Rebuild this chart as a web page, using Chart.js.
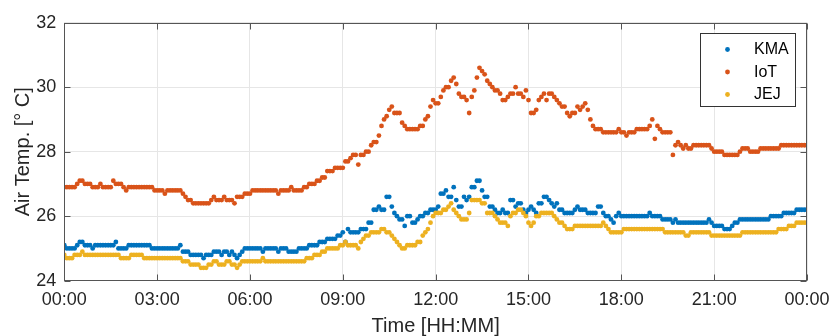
<!DOCTYPE html>
<html><head><meta charset="utf-8">
<script src="https://cdn.jsdelivr.net/npm/chart.js@4.4.1/dist/chart.umd.min.js"></script>
<style>html,body{margin:0;padding:0;background:#fff;overflow:hidden}</style>
</head><body>
<canvas id="c" width="829" height="336"></canvas>
<script>
// ---- data (5-minute samples, 00:00 .. 24:00) ----
const seriesNames = ['KMA', 'IoT', 'JEJ'];
const seriesColors = ['#0072BD', '#D95319', '#EDB120'];
const sampleMinutes = 5;
const xTickMinutes = [0, 180, 360, 540, 720, 900, 1080, 1260, 1440];
const yTickValues = [24, 26, 28, 30, 32];

const kma = [
25.1,25.0,25.0,25.0,25.0,25.1,25.2,25.2,25.1,25.1,25.1,25.0,
25.1,25.1,25.1,25.1,25.1,25.1,25.1,25.1,25.2,25.0,25.0,25.0,
25.0,25.1,25.1,25.1,25.1,25.1,25.1,25.1,25.1,25.1,25.0,25.0,
25.0,25.0,25.0,25.0,25.0,25.0,25.0,25.0,25.0,25.1,24.9,24.9,
24.9,24.8,24.8,24.8,24.8,24.8,24.7,24.8,24.8,24.8,24.9,24.9,
24.9,24.8,24.9,24.9,24.8,24.9,24.8,24.7,24.8,24.9,25.0,25.0,
25.0,25.0,25.0,25.0,25.0,24.9,25.0,25.0,25.0,25.0,25.0,24.9,
25.0,25.0,25.0,24.9,24.9,24.9,24.9,25.0,25.0,25.0,25.0,25.1,
25.1,25.1,25.1,25.2,25.2,25.2,25.3,25.3,25.3,25.3,25.4,25.4,
25.5,25.2,25.6,25.5,25.5,25.5,25.5,25.6,25.6,25.6,25.8,25.8,
26.2,26.2,26.3,26.2,26.2,26.6,26.6,26.3,26.1,26.0,25.9,25.9,
25.7,26.0,26.0,25.8,25.8,25.9,26.0,26.0,26.1,26.1,26.2,26.2,
26.2,26.3,26.7,26.7,26.8,26.6,26.6,26.9,26.5,26.3,26.3,26.6,
26.5,26.6,26.9,26.9,27.1,27.1,26.8,26.6,26.6,26.3,26.3,26.2,
26.1,26.1,26.2,26.1,26.1,26.5,26.5,26.3,26.4,26.4,26.2,26.1,
26.2,26.3,26.2,26.1,26.4,26.4,26.6,26.6,26.5,26.4,26.3,26.4,
26.2,26.2,26.1,26.1,26.1,26.1,26.2,26.3,26.2,26.2,26.2,26.1,
26.1,26.1,26.1,26.3,26.3,26.1,26.0,26.0,25.9,25.8,26.0,26.1,
26.0,26.0,26.0,26.0,26.0,26.0,26.0,26.0,26.0,26.0,26.0,26.1,
26.0,26.0,26.0,26.0,25.9,25.9,25.9,25.9,25.8,25.9,25.8,25.8,
25.8,25.8,25.8,25.8,25.8,25.8,25.8,25.8,25.8,25.8,25.9,25.8,
25.7,25.7,25.7,25.7,25.6,25.6,25.6,25.7,25.8,25.8,25.9,25.9,
25.9,25.9,25.9,25.9,25.9,25.9,25.9,25.9,25.9,25.9,26.0,26.0,
26.0,26.0,26.0,26.1,26.1,26.1,26.1,26.1,26.2,26.2,26.2,26.2,
26.2];

const iot = [
26.9,26.9,26.9,26.9,26.9,27.0,27.1,27.1,27.0,27.0,27.0,26.9,
26.9,26.9,27.0,26.9,26.9,26.9,26.9,27.1,27.0,27.0,27.0,26.9,
26.8,26.9,26.9,26.9,26.9,26.9,26.9,26.9,26.9,26.9,26.9,26.8,
26.8,26.8,26.8,26.7,26.8,26.8,26.8,26.8,26.8,26.8,26.7,26.6,
26.5,26.5,26.4,26.4,26.4,26.4,26.4,26.4,26.4,26.5,26.6,26.5,
26.5,26.5,26.6,26.5,26.5,26.5,26.4,26.6,26.6,26.6,26.7,26.7,
26.7,26.8,26.8,26.8,26.8,26.8,26.8,26.8,26.8,26.8,26.8,26.7,
26.8,26.8,26.8,26.8,26.9,26.8,26.8,26.8,26.8,26.9,26.9,27.0,
27.0,27.0,27.1,27.1,27.2,27.2,27.4,27.4,27.4,27.5,27.5,27.5,
27.5,27.7,27.7,27.8,27.9,27.9,27.6,27.9,27.9,28.0,28.0,28.2,
28.3,28.3,28.5,28.8,29.0,29.1,29.3,29.4,29.2,29.2,29.2,28.9,
28.8,28.7,28.7,28.7,28.7,28.7,28.8,28.8,29.0,29.1,29.4,29.6,
29.5,29.5,29.7,29.9,30.0,30.0,30.2,30.3,30.1,29.8,29.7,29.7,
29.6,29.2,29.7,29.9,30.3,30.6,30.5,30.4,30.2,30.1,30.0,29.9,
29.9,29.8,29.6,29.6,29.7,29.8,29.8,30.0,29.8,29.8,29.7,29.9,
29.6,29.2,29.2,29.3,29.6,29.7,29.8,29.6,29.8,29.8,29.7,29.6,
29.5,29.4,29.4,29.2,29.1,29.2,29.2,29.4,29.3,29.4,29.5,29.3,
29.0,28.8,28.7,28.7,28.7,28.6,28.6,28.6,28.6,28.6,28.6,28.7,
28.6,28.6,28.5,28.6,28.6,28.6,28.7,28.7,28.7,28.7,28.7,28.8,
29.0,28.4,28.8,28.7,28.6,28.6,28.6,28.6,27.9,28.2,28.3,28.2,
28.1,28.2,28.1,28.1,28.2,28.2,28.2,28.2,28.2,28.2,28.2,28.1,
28.0,28.0,28.0,28.0,27.9,27.9,27.9,27.9,27.9,27.9,28.0,28.1,
28.1,28.1,28.0,28.0,28.0,28.0,28.1,28.1,28.1,28.1,28.1,28.1,
28.1,28.1,28.2,28.2,28.2,28.2,28.2,28.2,28.2,28.2,28.2,28.2,
28.2];

const jej = [
24.8,24.7,24.7,24.7,24.8,24.8,24.8,24.9,24.8,24.8,24.8,24.8,
24.8,24.8,24.8,24.8,24.8,24.8,24.8,24.8,24.8,24.8,24.7,24.7,
24.7,24.7,24.8,24.8,24.8,24.8,24.8,24.7,24.7,24.7,24.7,24.7,
24.7,24.7,24.7,24.7,24.7,24.7,24.7,24.7,24.7,24.7,24.6,24.6,
24.6,24.5,24.5,24.5,24.5,24.4,24.4,24.4,24.5,24.5,24.6,24.6,
24.5,24.5,24.5,24.6,24.6,24.5,24.5,24.4,24.5,24.6,24.6,24.6,
24.6,24.6,24.6,24.6,24.6,24.7,24.6,24.6,24.6,24.6,24.6,24.6,
24.6,24.6,24.6,24.6,24.6,24.6,24.6,24.6,24.6,24.6,24.7,24.7,
24.7,24.8,24.8,24.8,24.9,24.9,25.0,25.0,25.0,25.0,25.0,25.1,
25.1,25.2,25.1,25.1,25.1,25.1,25.0,25.2,25.3,25.4,25.4,25.5,
25.5,25.5,25.5,25.6,25.6,25.5,25.5,25.4,25.3,25.2,25.1,25.0,
25.0,25.1,25.1,25.1,25.1,25.2,25.2,25.4,25.5,25.6,25.8,26.0,
26.1,26.1,26.1,26.2,26.2,26.3,26.4,26.2,26.1,26.0,25.9,25.9,
25.9,26.1,26.5,26.5,26.5,26.5,26.4,26.4,26.1,26.1,26.1,26.0,
25.9,25.8,25.8,25.8,25.7,26.0,26.1,26.1,26.2,26.2,26.1,26.0,
25.8,25.7,25.8,26.0,26.0,26.1,26.1,26.1,26.1,26.1,26.0,25.9,
25.8,25.8,25.7,25.6,25.6,25.6,25.7,25.7,25.7,25.7,25.7,25.7,
25.7,25.7,25.7,25.7,25.7,25.8,25.7,25.6,25.5,25.5,25.5,25.5,
25.5,25.6,25.6,25.6,25.6,25.6,25.6,25.6,25.6,25.6,25.6,25.6,
25.6,25.6,25.6,25.6,25.6,25.5,25.5,25.5,25.5,25.5,25.5,25.5,
25.5,25.4,25.4,25.5,25.5,25.5,25.5,25.5,25.5,25.5,25.5,25.4,
25.4,25.4,25.4,25.4,25.4,25.4,25.4,25.4,25.4,25.4,25.4,25.5,
25.5,25.5,25.5,25.5,25.5,25.5,25.5,25.5,25.5,25.5,25.5,25.5,
25.5,25.6,25.6,25.6,25.6,25.7,25.7,25.7,25.8,25.8,25.8,25.8,
25.8];

const seriesValues = [kma, iot, jej];

// ---- chart ----
const FONT = "'Liberation Sans', Arial, Helvetica, sans-serif";
const TEXT = '#262626';

function hhmm(m) {
  const h = Math.floor(m / 60) % 24, mm = Math.round(m % 60);
  return String(h).padStart(2, '0') + ':' + String(mm).padStart(2, '0');
}

const datasets = seriesNames.map((name, k) => ({
  label: name,
  data: seriesValues[k].map((v, i) => ({ x: i * sampleMinutes, y: v })),
  backgroundColor: seriesColors[k],
  borderColor: seriesColors[k],
  borderWidth: 0,
  pointRadius: 2.4,
  pointHoverRadius: 2.4,
  showLine: false,
  order: 3 - k
}));

const frame = {
  id: 'frame',
  afterDatasetsDraw(chart) {
    const { ctx, chartArea: a, scales } = chart;
    const L = Math.round(a.left) + 0.5, R = Math.round(a.right) - 0.5;
    const T = Math.round(a.top) + 0.5, B = Math.round(a.bottom) - 0.5;
    ctx.save();
    ctx.strokeStyle = '#555555';
    ctx.lineWidth = 1;
    const tl = 6;
    ctx.beginPath();
    xTickMinutes.forEach(v => {
      const px = Math.round(scales.x.getPixelForValue(v)) + 0.5;
      ctx.moveTo(px, B); ctx.lineTo(px, B - tl);
      ctx.moveTo(px, T); ctx.lineTo(px, T + tl);
    });
    yTickValues.forEach(v => {
      const py = Math.round(scales.y.getPixelForValue(v)) + 0.5;
      ctx.moveTo(L, py); ctx.lineTo(L + tl, py);
      ctx.moveTo(R, py); ctx.lineTo(R - tl, py);
    });
    ctx.stroke();
    ctx.strokeRect(L, T, R - L, B - T);
    ctx.restore();
  }
};

const legendBox = {
  id: 'legendBox',
  afterDraw(chart) {
    const ctx = chart.ctx;
    const bx = 700.5, by = 33.5, bw = 95, bh = 73;
    ctx.save();
    ctx.fillStyle = '#ffffff';
    ctx.fillRect(bx, by, bw, bh);
    ctx.strokeStyle = '#333333';
    ctx.lineWidth = 1;
    ctx.strokeRect(bx, by, bw, bh);
    ctx.font = '16px ' + FONT;
    ctx.textBaseline = 'middle';
    ctx.textAlign = 'left';
    seriesNames.forEach((name, k) => {
      const cy = 49.5 + k * 22.5;
      ctx.fillStyle = seriesColors[k];
      ctx.beginPath();
      ctx.arc(727.5, cy, 2.4, 0, Math.PI * 2);
      ctx.fill();
      ctx.fillStyle = '#000000';
      ctx.fillText(name, 754, cy + 0.5);
    });
    ctx.restore();
  }
};

new Chart(document.getElementById('c'), {
  type: 'scatter',
  data: { datasets },
  options: {
    responsive: false,
    animation: false,
    devicePixelRatio: 1,
    layout: { padding: { top: 22.7, right: 22, left: 0, bottom: 0 } },
    plugins: { legend: { display: false }, tooltip: { enabled: false } },
    elements: { point: { borderWidth: 0 } },
    scales: {
      x: {
        type: 'linear', min: 0, max: 1440,
        afterBuildTicks: s => { s.ticks = xTickMinutes.map(v => ({ value: v })); },
        afterFit: s => { s.height = 55.3; s.paddingLeft = 0; s.paddingRight = 0; },
        ticks: {
          callback: v => hhmm(v), color: TEXT, padding: 9,
          font: { family: FONT, size: 18 }, maxRotation: 0, autoSkip: false
        },
        grid: { color: '#e6e6e6', drawTicks: false, lineWidth: 1 },
        border: { display: false },
        title: {
          display: true, text: 'Time [HH:MM]', color: TEXT,
          font: { family: FONT, size: 20, lineHeight: 1 }, padding: { top: 0, bottom: 0 }
        }
      },
      y: {
        type: 'linear', min: 24, max: 32,
        afterBuildTicks: s => { s.ticks = yTickValues.map(v => ({ value: v })); },
        afterFit: s => { s.width = 64.3; s.paddingTop = 0; s.paddingBottom = 0; },
        ticks: { color: TEXT, padding: 8, font: { family: FONT, size: 18 } },
        grid: { color: '#e6e6e6', drawTicks: false, lineWidth: 1 },
        border: { display: false },
        title: {
          display: true, text: 'Air Temp. [° C]', color: TEXT,
          font: { family: FONT, size: 20, lineHeight: 1 }, padding: { top: 13, bottom: 0 }
        }
      }
    }
  },
  plugins: [frame, legendBox]
});
</script>
</body></html>
